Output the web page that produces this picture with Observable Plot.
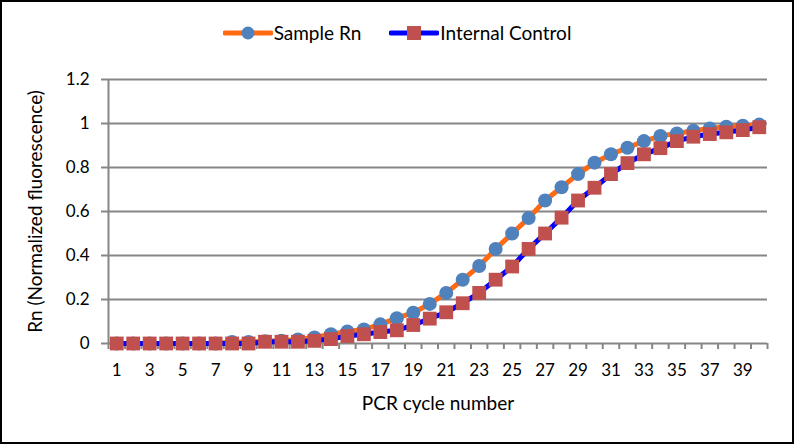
<!DOCTYPE html>
<html>
<head>
<meta charset="utf-8">
<script src="https://cdn.jsdelivr.net/npm/d3@7"></script>
<script src="https://cdn.jsdelivr.net/npm/@observablehq/plot@0.6"></script>
<style>
  html, body { margin: 0; padding: 0; background: #fff; }
  #chart { position: relative; width: 794px; height: 444px; overflow: hidden; background: #fff; font-family: Lato, "Open Sans", sans-serif; }
  #chart .border { position: absolute; inset: 0; border: 2px solid #000; pointer-events: none; box-sizing: border-box; }
  #legend { height: 55px; display: flex; justify-content: center; align-items: center; gap: 28px; font-size: 19px; color: #000; padding-top: 10px; box-sizing: border-box; }
  #legend .item { display: flex; align-items: center; gap: 1px; }
  #legend svg { display: block; }
  #plot svg { display: block; overflow: visible; }
</style>
</head>
<body>
<div id="chart">
  <div id="legend"></div>
  <div id="plot"></div>
  <div class="border"></div>
</div>
<script>
// PCR cycle numbers (x categories)
const cycles = [1, 2, 3, 4, 5, 6, 7, 8, 9, 10,
  11, 12, 13, 14, 15, 16, 17, 18, 19, 20,
  21, 22, 23, 24, 25, 26, 27, 28, 29, 30,
  31, 32, 33, 34, 35, 36, 37, 38, 39, 40];

// Normalized fluorescence of the sample
const sampleRn = [0, 0, 0, 0, 0, 0, 0, 0.007, 0.007, 0.01,
  0.012, 0.018, 0.027, 0.042, 0.055, 0.064, 0.087, 0.115, 0.14, 0.18,
  0.23, 0.29, 0.352, 0.43, 0.50, 0.57, 0.65, 0.71, 0.77, 0.822,
  0.86, 0.89, 0.92, 0.943, 0.955, 0.967, 0.977, 0.985, 0.99, 0.995];

// Normalized fluorescence of the internal control
const internalControl = [0, 0, 0, 0, 0, 0, 0, 0, 0, 0.008,
  0.008, 0.008, 0.012, 0.02, 0.034, 0.042, 0.052, 0.06, 0.084, 0.113,
  0.142, 0.183, 0.23, 0.29, 0.35, 0.43, 0.50, 0.572, 0.65, 0.708,
  0.77, 0.82, 0.86, 0.888, 0.92, 0.94, 0.952, 0.96, 0.97, 0.983];

// Axis tick values
const yTicks = [0, 0.2, 0.4, 0.6, 0.8, 1, 1.2];
const xTickLabels = [1, 3, 5, 7, 9, 11, 13, 15, 17, 19, 21, 23, 25, 27, 29, 31, 33, 35, 37, 39];

const seriesNames = ["Sample Rn", "Internal Control"];

const sampleColor = "#FF6A13";
const sampleMarker = "#4F81BD";
const controlColor = "#0000FF";
const controlMarker = "#C0504D";
const gridColor = "#868686";

const sampleRows = cycles.map((c, i) => ({cycle: c, rn: sampleRn[i]}));
const controlRows = cycles.map((c, i) => ({cycle: c, rn: internalControl[i]}));
// category boundaries, where the x-axis tick marks sit
const boundaries = cycles.map(c => c - 0.5).concat([cycles[cycles.length - 1] + 0.5]);

// Legend
const legend = document.getElementById("legend");
const swatches = [
  {name: seriesNames[0], line: sampleColor, marker: `<circle cx="25" cy="8" r="6.5" fill="${sampleMarker}"/>`},
  {name: seriesNames[1], line: controlColor, marker: `<rect x="18" y="1" width="14" height="14" fill="${controlMarker}"/>`}
];
for (const s of swatches) {
  const item = document.createElement("div");
  item.className = "item";
  item.innerHTML = `<svg width="50" height="16"><line x1="2" x2="48" y1="8" y2="8" stroke="${s.line}" stroke-width="5" stroke-linecap="round"/>${s.marker}</svg><span>${s.name}</span>`;
  legend.appendChild(item);
}

const chart = Plot.plot({
  width: 794,
  height: 389,
  marginTop: 24,
  marginBottom: 101,
  marginLeft: 108,
  marginRight: 27,
  style: {fontFamily: "Lato, 'Open Sans', sans-serif", fontSize: "17px", color: "#000", background: "transparent"},
  x: {domain: [0.5, 40.5]},
  y: {domain: [0, 1.2]},
  marks: [
    Plot.ruleY(yTicks, {stroke: gridColor, strokeWidth: 2}),
    Plot.ruleX([0.5], {stroke: gridColor, strokeWidth: 2}),
    Plot.axisY({ticks: yTicks, tickSize: 7, tickPadding: 12, tickFormat: d => String(d), stroke: gridColor, strokeWidth: 2, fill: "#000", label: null}),
    Plot.axisX({ticks: boundaries, tickSize: 6, tickFormat: () => "", stroke: gridColor, strokeWidth: 2, label: null}),
    Plot.axisX({ticks: xTickLabels, tickSize: 0, tickPadding: 20, tickFormat: d => String(d), fill: "#000", label: null}),
    Plot.line(sampleRows, {x: "cycle", y: "rn", stroke: sampleColor, strokeWidth: 5}),
    Plot.dot(sampleRows, {x: "cycle", y: "rn", r: 7, fill: sampleMarker, stroke: "none"}),
    Plot.line(controlRows, {x: "cycle", y: "rn", stroke: controlColor, strokeWidth: 5}),
    Plot.dot(controlRows, {x: "cycle", y: "rn", r: 7.8, symbol: "square", fill: controlMarker, stroke: "none"}),
    Plot.text(["Rn (Normalized fluorescence)"], {frameAnchor: "left", textAnchor: "middle", lineAnchor: "middle", rotate: -90, dx: -73, fontSize: 19, fill: "#000"}),
    Plot.text(["PCR cycle number"], {frameAnchor: "bottom", textAnchor: "middle", lineAnchor: "middle", dy: 60, fontSize: 19, fill: "#000"})
  ]
});
document.getElementById("plot").appendChild(chart);
</script>
</body>
</html>
